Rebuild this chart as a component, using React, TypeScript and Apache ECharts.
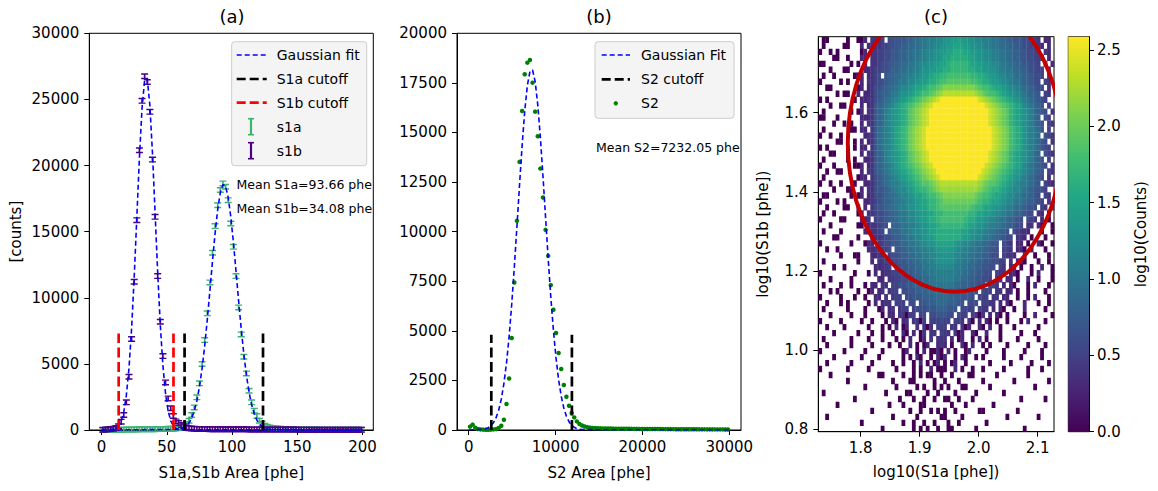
import React, { useEffect, useRef } from "react";
import * as echarts from "echarts";

// ---------------- Panel (a): S1a / S1b histograms ----------------
const S1_BIN_CENTERS = [1,3,5,7,9,11,13,15,17,19,21,23,25,27,29,31,33,35,37,39,41,43,45,47,49,51,53,55,57,59,61,63,65,67,69,71,73,75,77,79,81,83,85,87,89,91,93,95,97,99,101,103,105,107,109,111,113,115,117,119,121,123,125,127,129,131,133,135,137,139,141,143,145,147,149,151,153,155,157,159,161,163,165,167,169,171,173,175,177,179,181,183,185,187,189,191,193,195,197,199];
const S1A_COUNTS = [0,0,2,5,8,12,16,20,25,30,33,36,40,44,48,50,53,56,60,63,66,70,73,77,81,86,92,100,120,
  150,200,290,450,700,1130,1710,2470,3530,4990,6800,8820,11160,13400,15420,17000,18150,18650,18400,17380,15620,13850,11640,9270,7230,5540,4280,2970,2090,1460,1060,700,480,330,240,190,150,125,105,90,80,70,62,55,50,45,
  42,40,38,36,34,32,30,29,28,27,26,25,24,23,22,21,20,20,19,18,18,17,16,16,15];
const S1B_COUNTS = [20,35,50,70,100,160,280,630,1130,2090,4030,6880,11210,15870,21160,24890,26750,26320,24060,20450,16120,11640,8190,5590,3600,2390,1640,1060,650,520,380,270,190,140,110,95,85,80,75,70,
  68,66,64,62,60,58,57,56,55,54,53,52,51,50,49,48,47,46,45,44,43,42,41,40,39,38,37,36,35,34,33,32,31,30,29,28,27,26,25,24,23,22,22,21,21,20,20,19,19,18,18,17,17,16,16,15,15,14,14,13];
const S1B_FIT_X = [0,9,11,13,15,17,19,21,23,25,27,29,31,33,35,37,39,41,43,45,47,49,51,53,55,57,59,61,200];
const S1B_FIT_Y = [0,44,117,288,653,1365,2633,4676,7657,11556,16069,20596,24327,26484,26569,24568,20934,16439,11899,7938,4880,2763,1444,695,308,126,47,15,0];
const S1A_FIT_X = [0,59,61,63,65,67,69,71,73,75,77,79,81,83,85,87,89,91,93,95,97,99,101,103,105,107,109,111,113,115,117,119,121,123,125,127,129,200];
const S1A_FIT_Y = [0,46,90,169,306,532,889,1427,2202,3262,4643,6351,8346,10539,12784,14900,16686,17953,18559,18433,17590,16128,14207,12025,9778,7639,5734,4137,2866,1908,1220,750,443,251,137,72,36,0];
const S1A_CUTOFFS = [63.6, 123.7];
const S1B_CUTOFFS = [13.1, 55.1];
const CUTOFF_TOP_A = 7300;
const MEAN_S1A = "93.66";
const MEAN_S1B = "34.08";
const A_X_TICKS = [0, 50, 100, 150, 200];

// ---------------- Panel (b): S2 histogram ----------------
const S2_BIN_CENTERS = [150,450,750,1050,1350,1650,1950,2250,2550,2850,3150,3450,3750,4050,4350,4650,4950,5250,5550,5850,6150,6450,6750,7050,7350,7650,7950,8250,8550,8850,9150,9450,9750,10050,10350,10650,10950,11250,11550,11850,12150,12450,12750,13050,13350,13650,13950,14250,14550,14850,15150,15450,15750,16050,16350,16650,16950,17250,17550,17850,18150,18450,18750,19050,19350,19650,19950,20250,20550,20850,21150,21450,21750,22050,22350,22650,22950,23250,23550,23850,24150,24450,24750,25050,25350,25650,25950,26250,26550,26850,27150,27450,27750,28050,28350,28650,28950,29250,29550,29850];
const S2_COUNTS = [170,270,110,50,30,20,15,15,20,30,45,100,217,519,1310,2600,4635,7436,10545,13517,16086,17935,18520,18656,17512,16050,14810,13180,11718,10091,8781,7305,6061,4887,3879,3073,2267,1678,1224,856,635,433,302,230,180,145,120,105,95,88,
  84,80,77,74,72,70,68,66,64,62,61,60,58,57,56,55,54,53,52,51,50,49,48,47,46,45,44,43,42,41,40,39,38,38,37,36,35,35,34,33,33,32,31,31,30,30,29,29,28,28];
const S2_FIT_X = [0,1650,1950,2250,2550,2850,3150,3450,3750,4050,4350,4650,4950,5250,5550,5850,6150,6450,6750,7050,7350,7650,7950,8250,8550,8850,9150,9450,9750,10050,10350,10650,10950,11250,11550,11850,12150,12450,12750,13050,30000];
const S2_FIT_Y = [0,33,63,119,213,370,619,1001,1556,2342,3376,4708,6330,8205,10254,12358,14352,16078,17363,18078,18150,17567,16393,14749,12795,10702,8627,6710,5030,3635,2533,1702,1103,688,415,240,134,73,38,18,0];
const S2_CUTOFFS = [2600, 11880];
const CUTOFF_TOP_B = 4800;
const MEAN_S2 = "7232.05";
const B_X_TICKS = [0, 10000, 20000, 30000];

// ---------------- Panel (c): 2D histogram (log10 counts) ----------------
const HEAT_X_RANGE = [1.7281, 2.1276];
const HEAT_Y_RANGE = [0.7939, 1.792];
const HEAT_COLS = 68;
const HEAT_LEVELS = "abcdefghijklmnopqrstuvwxyz";
const HEAT_LEVEL_VALUES = [0,0.1,0.2,0.3,0.4,0.5,0.6,0.7,0.8,0.9,1.0,1.1,1.2,1.3,1.4,1.5,1.6,1.7,1.8,1.9,2.0,2.1,2.2,2.3,2.4,2.58];
// rows from top (y=1.79) to bottom (y=0.79); "." = empty bin
const HEAT_ROWS = [
  ".aa.....a..aad.e" + "eef.gghhhiijjkklllmmnnoo" + "p" + "oonnmmlllkkjjiihhhggff" + "e.dd.",
  ".a.....aa...d.de" + "eeffgghhiijjjkkllmmnnoop" + "p" + "poonnmmllkkjjjiihhggff" + "ed.d.",
  "a..a.a......ad.e" + "effgghhiijjkkllmmnnooppq" + "q" + "qppoonnmmllkkjjiihhggf" + "f.ed.",
  "....aa..a...dd.e" + "effgghhiijjkkllmmnnoppqq" + "q" + "qqpponnmmllkkjjiihhggf" + "fe.d.",
  "aa.......a.a.d.e" + "efgghhiijjkklmmnnooppqrr" + "r" + "rrqppoonnmmlkkjjiihhgg" + "f.e.d",
  "...a...aa....dde" + "ffgghiijjkkllmnnooppqqrr" + "r" + "rrqqppoonnmllkkjjiihgg" + "ff.e.",
  ".a..a.....aad.de" + "fg.hiijjkllmmnoopqqrrsss" + "s" + "sssrrqqpoonmmllkjjiihg" + "gf.e.",
  "a.....a.a...d.ee" + "fgghiijkklmmnoopqqrssttt" + "t" + "tttssrqqpoonmmlkkjiihg" + "g.fe.",
  "..aa.......ad.de" + "gghijjklmmnoppqrsstuvvvv" + "v" + "vvvvutssrqpponmmlkjjih" + "gg.e.",
  ".....a.aa..d.dde" + "ghiijklmnnopqrsstuvwxxxx" + "x" + "xxxxwvutssrqponnmlkjii" + "h.fe.",
  "a.a.......a.ddee" + "ghijklmnopqrstuvwxyzzzzz" + "z" + "zzzzzyxwvutsrqponmlkji" + "hgf..",
  "...a..aa....d.de" + "hijklmopqrstuvwxyzzzzzzz" + "z" + "zzzzzzzyxwvutsrqpomlkj" + "ih.f.",
  ".a.......a.ad.ee" + "hijlmnopqrtuvwxyzzzzzzzz" + "z" + "zzzzzzzzyxwvutrqponmlj" + "ihg.e",
  "aa...a......ddde" + "hijlmnopqrtuvwxyzzzzzzzz" + "z" + "zzzzzzzzyxwvutrqponmlj" + "i.gf.",
  "....a..a.a..d.ee" + "hijlmnopqrtuvwxyzzzzzzzz" + "z" + "zzzzzzzzyxwvutrqponmlj" + "ih.fe",
  ".a.......aa.dd.e" + "hjklmnpqrsuvwxyzzzzzzzzz" + "z" + "zzzzzzzzzyxwvusrqpnmlk" + "jh.f.",
  "a..a..a......dee" + "hjklmnpqrsuvwxyzzzzzzzzz" + "z" + "zzzzzzzzzyxwvusrqpnmlk" + "j.gfe",
  ".....aa...a.d.de" + "hjklmnpqrsuvwxyzzzzzzzzz" + "z" + "zzzzzzzzzyxwvusrqpnmlk" + "jhg.e",
  "a.a.......a.dd.e" + "hjklmnpqrsuvwxyzzzzzzzzz" + "z" + "zzzzzzzzzyxwvusrqpnmlk" + "jhgf.",
  "...aa...a...d.ee" + "hijlmnopqrtuvwxyzzzzzzzz" + "z" + "zzzzzzzzyxwvutrqponmlj" + "i.gfe",
  ".a......a.a..dde" + "hijlmnopqrtuvwxyzzzzzzzz" + "z" + "zzzzzzzzyxwvutrqponmlj" + "ih.f.",
  "a...a.....aad.de" + "hijklmopqrstuvwxyzzzzzzz" + "z" + "zzzzzzzyxwvutsrqpomlkj" + "ihg.e",
  "..a..aa.....d.ee" + "hijklmnopqrstuvwxyzzzzzz" + "z" + "zzzzzzyxwvutsrqponmlkj" + "ih.fe",
  ".a.........add.e" + "ghijklmnopqrstuvwxyzzzzz" + "z" + "zzzzzyxwvutsrqponmlkji" + "hg.e.",
  "a..a..a...a..dde" + "ghijkllmnopqrsttuvwxxxxx" + "x" + "xxxxxwvuttsrqponmllkji" + "h.fed",
  "....a...aa..d.ee" + "ghhijklmmnopqrrstuvwwwww" + "w" + "wwwwwvutsrrqponmmlkjih" + "hgf..",
  ".aa......a.ad.de" + "gghijjklmmnoppqrsstuvvvv" + "v" + "vvvvutssrqpponmmlkjjih" + "g.fe.",
  "a....a.a.....dde" + "fghiijkklmmnoppqrrstuuuu" + "u" + "uuuutsrrqpponmmlkkjiih" + "gf.e.",
  "..a....aa..d.d.e" + "ghhijjkllmnnoppqrrstttt" + "t" + "ttttsrrqpponnmllkjjihhg.fe.d",
  ".a..a......ad.ee" + "fgghiijkklmmnooppqrrsss" + "s" + "sssrrqppoonmmlkkjiihgg.ed.a.",
  "a.....aa...." + "dde.fgghiijkklmmnoopqqrsss" + "s" + "sssrqqpoonmmlkkjiihg.gfe.d" + ".a.",
  "...a.......aa" + ".deefgg.iijkkllmnnoppqrrr" + "r" + "rrrqpponnmllkkjiihgg.ee.d" + "a..a",
  ".a....a......" + "ddeefg.hiijkklmmnnoppqqq" + "q" + "qqqpponnmmlkkjiih.gfeed." + "..a..a",
  "....aa.....a.." + ".deefgghiijkklmmnoopqqq" + "q" + "qqqpoonmmlkkjiihgg.eed." + "a...a..",
  "a........a...a" + "dd.efgghhijjkklmmnnopp" + "p" + "pponnmmlkkjjihh.gfe.dd" + ".a..da..a",
  "..a..a........" + "ddeeffg.hhijjkkllmmnoo" + "o" + "oonmmllkkjjihhg.ffe.dd" + "a.d...a..",
  "......a...aa..." + "ddee.fgghiijjkkllmmnn" + "n" + "nnmmllkkjjiihgg.feed." + ".d..a...a.",
  ".a.........a..." + "d.eeffgghhiijjkkllmnn" + "n" + "nnmllkkjjiihhggff.e.d" + "da...a..a.",
  "....a..a........" + "ddeef.gghhiijjkkllmm" + "m" + "mmllkkjjiihhgg.fe.dd" + ".a..a..d..a",
  "a.........a...a." + "d.deeffgghhiijjkklll" + "l" + "lllkkjjiihhgg.fee.dd" + "a...a.d...a",
  "...a.....a......." + "dd.eeffgghhiijjkkll" + "l" + "llkkjjiihhggf.ee.dd" + ".a..d..a...a",
  ".a....a..a...a." + "dd.ee.ffgghhiiijjkkk" + "k" + "kkkjjiiihhgg.ffe.d.d" + "a...a.d...a.",
  "...a.a.....a..a" + "d.de.eff.gghhiiijjkk" + "k" + "kkjjiiihhg.gff.ee.dd" + ".a..a....a..",
  "a.....a...a..a.." + "dd.e.eff.gghhhiiijj" + "j" + "jjiiihhhg.fff.ee.dd" + "..a..a.d...a.",
  "..a...a.a.....a." + "d.dee.fff.gg.hhiiij" + "j" + "jiiihh.ggg.ffee.d.d" + "a...d...a..a.",
  ".a......a....a..." + "ad.de.eff.fggghhhi" + "i" + "ihhh.ggff.fee.d.da" + "..a..d.....a..",
  "...a.....a...a...." + "a.dd.eeaff.fg.ggh" + "h" + "hgg.gff.feae.d.da" + ".a....a..d....a",
  "a.....a.....a..a..." + "a.da.de.eeaf.fff" + "g" + "ff.ffe.ea.d.da.a" + "..a...a.d....a..",
  "..a....a......a...a." + "a.d.ad..e.eae.f" + "f" + "f.ee.ead..da.d." + ".a...a......a....",
  "....a......a...a..a.." + "a..da.d.ae.ee." + "f" + "ee.ead..da..d." + "..a.....a...a.....",
  ".a.......a....a...a..." + "a.a.d..ad.e.e" + "e" + "e.d.ad..a.d.a" + "...a....a.....a....",
  "..a......a.....a....a.." + "a..d.a.ad..d" + "e" + "d.a..da.d..a" + ".a....a.....a....a..",
  "a......a.....a....a...." + ".ad..a.d.aa" + "d" + "a.d.a..ad.." + "..a....a.....a....a...",
  "....a.......a....a......a" + ".a.da..a.d" + "a" + "d..a.da..a" + ".a.....a....a.....a...",
  "..a......a.....a.....a.." + "a..a.d.a.a" + "d" + ".a.ad..a.." + "....a.....a.....a....a.",
  "a.......a.....a.......a..." + ".a.a..d.a" + "a" + "a..d.a..a" + "..a.....a......a...a...",
  "...a......" + ".......aa." + "....a..a.a" + ".aa..a..a." + "...aa....." + ".a........" + "a.......",
  "........a." + ".........." + ".a....aa.." + "...a..a..." + "a......a.." + "......a..." + "......a.",
  ".........." + "...a......" + "..a.....a." + "a..a.a.a.." + ".aa......a" + ".........." + "..a.....",
  ".a........" + ".........a" + ".....aa..." + ".a..a....a" + ".....a...." + "...a......" + "........",
  ".........." + "a........." + "...a...a.." + "a..a..aa.." + "a...a....." + "........a." + ".....a..",
  ".....a...." + ".........." + "a...a....a" + "a.......a." + "..a......." + "a........." + "........",
  ".........." + ".....a...." + "......a..a" + "..a.a.a..a" + "......aa.." + ".......a.." + "........",
  "..a......." + ".........." + ".a......a." + ".....aa..." + ".a........" + "....a....." + "...a....",
  ".........." + "..a......." + "....a..a.." + "a..a...a.." + "a.......a." + ".........." + "........",
  ".........." + "........a." + ".......a.a" + ".a..a..aa." + ".....a...." + ".........a" + "........",
];
const ELLIPSE = [1.9595, 1.5236, 0.1814, 0.3758]; // cx, cy, rx, ry
const C_X_TICKS = [1.8, 1.9, 2.0, 2.1];
const C_Y_TICKS = [0.8, 1.0, 1.2, 1.4, 1.6];
const COLORBAR_MAX = 2.587;
const COLORBAR_TICKS = [0, 0.5, 1.0, 1.5, 2.0, 2.5];

const VIRIDIS = ["#440154","#482475","#414487","#355f8d","#2a788e","#21918c","#22a884","#44bf70","#7ad151","#bddf26","#fde725"];
const FONT = "DejaVu Sans";

function hexToRgb(h: string) {
  const n = parseInt(h.slice(1), 16);
  return [(n >> 16) & 255, (n >> 8) & 255, n & 255];
}
function viridis(t: number) {
  const tt = Math.max(0, Math.min(1, t));
  const s = tt * (VIRIDIS.length - 1);
  const i = Math.min(VIRIDIS.length - 2, Math.floor(s));
  const f = s - i;
  const a = hexToRgb(VIRIDIS[i]);
  const b = hexToRgb(VIRIDIS[i + 1]);
  const c = a.map((v, k) => Math.round(v + (b[k] - v) * f));
  return `rgb(${c[0]},${c[1]},${c[2]})`;
}

const heatDX = (HEAT_X_RANGE[1] - HEAT_X_RANGE[0]) / HEAT_COLS;
const heatDY = (HEAT_Y_RANGE[1] - HEAT_Y_RANGE[0]) / HEAT_ROWS.length;
const heatData: number[][] = [];
HEAT_ROWS.forEach((row, i) => {
  const r = HEAT_ROWS.length - 1 - i;
  for (let j = 0; j < Math.min(row.length, HEAT_COLS); j++) {
    const k = HEAT_LEVELS.indexOf(row[j]);
    if (k < 0) continue;
    heatData.push([HEAT_X_RANGE[0] + (j + 0.5) * heatDX, HEAT_Y_RANGE[0] + (r + 0.5) * heatDY, HEAT_LEVEL_VALUES[k]]);
  }
});

const zip = (xs: number[], ys: number[]) => xs.map((x, i) => [x, ys[i]]);
const IBEAM = "path://M0,0H10V2.4H6.2V7.6H10V10H0V7.6H3.8V2.4H0Z";

const axisBase = (extra: any = {}) => ({
  type: "value",
  axisLine: { show: true, onZero: false, lineStyle: { color: "#000", width: 1 } },
  axisTick: { show: true, inside: false, length: 5, lineStyle: { color: "#000", width: 1 } },
  splitLine: { show: false },
  nameTextStyle: { color: "#000", fontSize: 15, fontFamily: FONT },
  ...extra,
});
const lbl = (extra: any = {}) => ({ color: "#000", fontSize: 15, fontFamily: FONT, ...extra });

const dashed = (color: string, width: number, dash: number[]) => ({ color, width, type: dash });

function cutoffSeries(x: number, top: number, color: string, axis: number) {
  return {
    type: "line", xAxisIndex: axis, yAxisIndex: axis, data: [[x, 0], [x, top]],
    symbol: "none", lineStyle: dashed(color, 2.7, [10, 4.5]), silent: true, z: 4,
  };
}

function txt(x: number, y: number, text: string, size: number, align = "left", extra: any = {}) {
  return {
    type: "text", x, y, z: 101,
    style: { text, fontSize: size, fontFamily: FONT, fill: "#000", textAlign: align, align, textVerticalAlign: "middle", verticalAlign: "middle", ...extra },
  };
}
function hline(x1: number, x2: number, y: number, color: string, w: number, dash: number[] | null) {
  return { type: "line", z: 101, shape: { x1, y1: y, x2, y2: y }, style: { stroke: color, lineWidth: w, lineDash: dash || undefined } };
}
function ibeamGlyph(x: number, y: number, color: string) {
  return [
    { type: "line", z: 101, shape: { x1: x, y1: y - 8, x2: x, y2: y + 8 }, style: { stroke: color, lineWidth: 2.2 } },
    { type: "line", z: 101, shape: { x1: x - 3, y1: y - 8, x2: x + 3, y2: y - 8 }, style: { stroke: color, lineWidth: 1.6 } },
    { type: "line", z: 101, shape: { x1: x - 3, y1: y + 8, x2: x + 3, y2: y + 8 }, style: { stroke: color, lineWidth: 1.6 } },
  ];
}

const S1A_COLOR = "#3cb371";
const S1B_COLOR = "#4b0082";

const graphics: any[] = [
  txt(232, 16, "(a)", 18, "center"),
  txt(599, 16, "(b)", 18, "center"),
  txt(936, 16, "(c)", 18, "center"),
  // legend (a)
  { type: "rect", z: 100, shape: { x: 231.7, y: 41.7, width: 135, height: 124, r: 3 }, style: { fill: "#f4f4f4", stroke: "#cccccc", lineWidth: 1 } },
  hline(236.7, 266.7, 55, "#0000ff", 1.6, [5, 3]),
  txt(276.7, 55, "Gaussian fit", 14),
  hline(236.7, 266.7, 79, "#000000", 2.7, [9, 4]),
  txt(276.7, 79, "S1a cutoff", 14),
  hline(236.7, 266.7, 102.7, "#ff0000", 2.7, [9, 4]),
  txt(276.7, 102.7, "S1b cutoff", 14),
  ...ibeamGlyph(251, 126.7, S1A_COLOR),
  txt(276.7, 126.7, "s1a", 14),
  ...ibeamGlyph(251, 150.7, S1B_COLOR),
  txt(276.7, 150.7, "s1b", 14),
  txt(236.5, 184, `Mean S1a=${MEAN_S1A} phe`, 12.5),
  txt(236.5, 208.3, `Mean S1b=${MEAN_S1B} phe`, 12.5),
  // legend (b)
  { type: "rect", z: 100, shape: { x: 595, y: 41.7, width: 139, height: 76.6, r: 3 }, style: { fill: "#f4f4f4", stroke: "#cccccc", lineWidth: 1 } },
  hline(601.7, 630, 55, "#0000ff", 1.6, [5, 3]),
  txt(641, 55, "Gaussian Fit", 14),
  hline(601.7, 630, 79.3, "#000000", 2.7, [9, 4]),
  txt(641, 79.3, "S2 cutoff", 14),
  { type: "circle", z: 101, shape: { cx: 615.8, cy: 103.3, r: 2.2 }, style: { fill: "#008000" } },
  txt(641, 103.3, "S2", 14),
  txt(596, 147.5, `Mean S2=${MEAN_S2} phe`, 12.5),
];

const fmtInt = (v: number) => String(Math.round(v));
const fmt1 = (v: number) => Number(v).toFixed(1);

const option: any = {
  animation: false,
  backgroundColor: "#ffffff",
  grid: [
    { left: 89.3, top: 33.3, width: 284, height: 396.7, show: true, borderColor: "#000", borderWidth: 1 },
    { left: 457, top: 33.3, width: 284, height: 396.7, show: true, borderColor: "#000", borderWidth: 1 },
    { left: 818.3, top: 36.7, width: 235.7, height: 395, show: true, borderColor: "#000", borderWidth: 1 },
    { left: 1068.3, top: 36.7, width: 20.7, height: 395, show: true, borderColor: "#000", borderWidth: 1 },
  ],
  xAxis: [
    axisBase({ gridIndex: 0, min: -9.4, max: 208.2, name: "S1a,S1b Area [phe]", nameLocation: "middle", nameGap: 35,
      axisTick: { show: true, length: 5, customValues: A_X_TICKS, lineStyle: { color: "#000" } },
      axisLabel: lbl({ customValues: A_X_TICKS, margin: 9, formatter: fmtInt }) }),
    axisBase({ gridIndex: 1, min: -1350, max: 31350, name: "S2 Area [phe]", nameLocation: "middle", nameGap: 35,
      axisTick: { show: true, length: 5, customValues: B_X_TICKS, lineStyle: { color: "#000" } },
      axisLabel: lbl({ customValues: B_X_TICKS, margin: 9, formatter: fmtInt }) }),
    axisBase({ gridIndex: 2, min: HEAT_X_RANGE[0], max: HEAT_X_RANGE[1], name: "log10(S1a [phe])", nameLocation: "middle", nameGap: 33,
      axisTick: { show: true, length: 5, customValues: C_X_TICKS, lineStyle: { color: "#000" } },
      axisLabel: lbl({ customValues: C_X_TICKS, margin: 9, formatter: fmt1 }) }),
    { type: "value", gridIndex: 3, min: 0, max: 1, show: false },
  ],
  yAxis: [
    axisBase({ gridIndex: 0, min: 0, max: 30000, interval: 5000, name: "[counts]", nameLocation: "middle", nameGap: 66, nameRotate: 90,
      axisLabel: lbl({ margin: 10, formatter: fmtInt }) }),
    axisBase({ gridIndex: 1, min: 0, max: 20000, interval: 2500, axisLabel: lbl({ margin: 10, formatter: fmtInt }) }),
    axisBase({ gridIndex: 2, min: HEAT_Y_RANGE[0], max: HEAT_Y_RANGE[1], name: "log10(S1b [phe])", nameLocation: "middle", nameGap: 48, nameRotate: 90,
      axisTick: { show: true, length: 5, customValues: C_Y_TICKS, lineStyle: { color: "#000" } },
      axisLabel: lbl({ customValues: C_Y_TICKS, margin: 10, formatter: fmt1 }) }),
    axisBase({ gridIndex: 3, min: 0, max: COLORBAR_MAX, position: "right", name: "log10(Counts)", nameLocation: "middle", nameGap: 44, nameRotate: 90,
      axisTick: { show: true, length: 5, customValues: COLORBAR_TICKS, lineStyle: { color: "#000" } },
      axisLabel: lbl({ customValues: COLORBAR_TICKS, margin: 8, formatter: fmt1 }) }),
  ],
  graphic: { elements: graphics },
  series: [
    { type: "scatter", name: "s1a", xAxisIndex: 0, yAxisIndex: 0, data: zip(S1_BIN_CENTERS, S1A_COUNTS), symbol: IBEAM, symbolSize: [7, 6], itemStyle: { color: S1A_COLOR, opacity: 1 }, z: 2 },
    { type: "scatter", name: "s1b", xAxisIndex: 0, yAxisIndex: 0, data: zip(S1_BIN_CENTERS, S1B_COUNTS), symbol: IBEAM, symbolSize: [7, 6], itemStyle: { color: S1B_COLOR, opacity: 1 }, z: 2 },
    { type: "line", name: "fit s1b", xAxisIndex: 0, yAxisIndex: 0, data: zip(S1B_FIT_X, S1B_FIT_Y), symbol: "none", lineStyle: dashed("#0000ff", 1.6, [5, 3]), z: 3 },
    { type: "line", name: "fit s1a", xAxisIndex: 0, yAxisIndex: 0, data: zip(S1A_FIT_X, S1A_FIT_Y), symbol: "none", lineStyle: dashed("#0000ff", 1.6, [5, 3]), z: 3 },
    cutoffSeries(S1A_CUTOFFS[0], CUTOFF_TOP_A, "#000000", 0),
    cutoffSeries(S1A_CUTOFFS[1], CUTOFF_TOP_A, "#000000", 0),
    cutoffSeries(S1B_CUTOFFS[0], CUTOFF_TOP_A, "#ff0000", 0),
    cutoffSeries(S1B_CUTOFFS[1], CUTOFF_TOP_A, "#ff0000", 0),
    { type: "scatter", name: "S2", xAxisIndex: 1, yAxisIndex: 1, data: zip(S2_BIN_CENTERS, S2_COUNTS), symbol: "circle", symbolSize: 4.5, itemStyle: { color: "#008000", opacity: 1 }, z: 2 },
    { type: "line", name: "fit S2", xAxisIndex: 1, yAxisIndex: 1, data: zip(S2_FIT_X, S2_FIT_Y), symbol: "none", lineStyle: dashed("#0000ff", 1.6, [5, 3]), z: 3 },
    cutoffSeries(S2_CUTOFFS[0], CUTOFF_TOP_B, "#000000", 1),
    cutoffSeries(S2_CUTOFFS[1], CUTOFF_TOP_B, "#000000", 1),
    {
      type: "custom", name: "hist2d", xAxisIndex: 2, yAxisIndex: 2, data: heatData, clip: true, silent: true, progressive: 0,
      encode: { x: 0, y: 1 },
      renderItem: (_p: any, api: any) => {
        const x = api.value(0), y = api.value(1), v = api.value(2);
        const a = api.coord([x - heatDX / 2, y + heatDY / 2]);
        const b = api.coord([x + heatDX / 2, y - heatDY / 2]);
        return { type: "rect", shape: { x: a[0], y: a[1], width: b[0] - a[0] + 0.35, height: b[1] - a[1] + 0.35 }, style: { fill: viridis(v / COLORBAR_MAX) } };
      },
      z: 2,
    },
    {
      type: "custom", name: "ellipse", xAxisIndex: 2, yAxisIndex: 2, data: [ELLIPSE], clip: true, silent: true,
      encode: { x: 0, y: 1 },
      renderItem: (_p: any, api: any) => {
        const c = api.coord([api.value(0), api.value(1)]);
        const s = api.size([api.value(2), api.value(3)]);
        return { type: "ellipse", shape: { cx: c[0], cy: c[1], rx: s[0], ry: s[1] }, style: { fill: "none", stroke: "#c40000", lineWidth: 4 } };
      },
      z: 5,
    },
    {
      type: "custom", name: "colorbar", xAxisIndex: 3, yAxisIndex: 3, data: [[0, COLORBAR_MAX]], silent: true,
      encode: { x: 0, y: 1 },
      renderItem: (_p: any, api: any) => {
        const a = api.coord([0, COLORBAR_MAX]);
        const b = api.coord([1, 0]);
        const grad = new echarts.graphic.LinearGradient(0, 1, 0, 0, VIRIDIS.map((c, i) => ({ offset: i / (VIRIDIS.length - 1), color: c })));
        return { type: "rect", shape: { x: a[0], y: a[1], width: b[0] - a[0], height: b[1] - a[1] }, style: { fill: grad } };
      },
      z: 2,
    },
  ],
};

export default function App() {
  const ref = useRef<HTMLDivElement>(null);
  useEffect(() => {
    if (!ref.current) return;
    const chart = echarts.init(ref.current, null, { renderer: "svg" });
    chart.setOption(option);
    return () => chart.dispose();
  }, []);
  return <div ref={ref} style={{ position: "fixed", left: 0, top: 0, width: 1158, height: 491, background: "#fff" }} />;
}
